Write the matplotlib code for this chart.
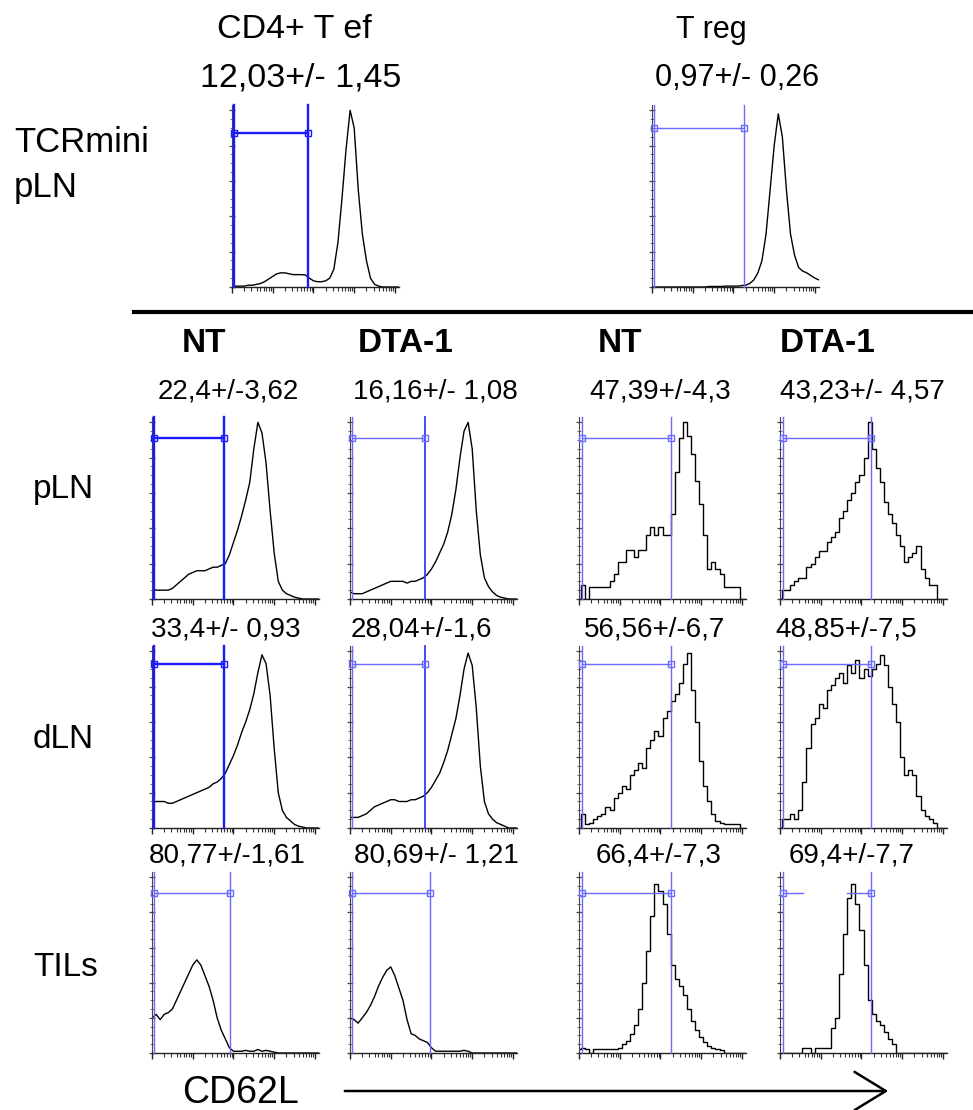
import matplotlib
matplotlib.use("Agg")
import matplotlib.pyplot as plt
from matplotlib.lines import Line2D
from matplotlib.patches import FancyArrowPatch
import numpy as np

plt.rcParams['font.family'] = ['Liberation Sans', 'DejaVu Sans']

W, H = 973, 1110

# ---------------- data ----------------
# CD62L fluorescence, position in log10 decades, at which histogram heights are read
cd62l_log = [0.0, 0.1, 0.2, 0.3, 0.4, 0.5, 0.6, 0.7, 0.8, 0.9,
             1.0, 1.1, 1.2, 1.3, 1.4, 1.5, 1.6, 1.7, 1.8, 1.9,
             2.0, 2.1, 2.2, 2.3, 2.4, 2.5, 2.6, 2.7, 2.8, 2.9,
             3.0, 3.1, 3.2, 3.3, 3.4, 3.5, 3.6, 3.7, 3.8, 3.9,
             4.0, 4.1]

# TCRmini pLN (top row)
top_cd4_tef = [0.0, 0.005, 0.005, 0.005, 0.01, 0.01, 0.015, 0.02, 0.03, 0.045,
               0.06, 0.075, 0.08, 0.08, 0.075, 0.07, 0.07, 0.07, 0.068, 0.05,
               0.035, 0.03, 0.03, 0.035, 0.05, 0.1, 0.25, 0.5, 0.78, 1.0,
               0.9, 0.55, 0.3, 0.15, 0.05, 0.015, 0.005, 0, 0, 0,
               0, 0]
top_treg = [0, 0, 0, 0, 0, 0, 0, 0, 0, 0,
            0, 0, 0, 0, 0.003, 0.003, 0.003, 0.003, 0.005, 0.005,
            0.005, 0.005, 0.008, 0.01, 0.02, 0.04, 0.08, 0.15, 0.3, 0.55,
            0.8, 0.98, 0.85, 0.55, 0.3, 0.18, 0.11, 0.09, 0.08, 0.065,
            0.05, 0.04]

# pLN
pln_nt_cd4 = [0.06, 0.05, 0.05, 0.05, 0.05, 0.06, 0.08, 0.1, 0.12, 0.14,
              0.15, 0.16, 0.16, 0.16, 0.17, 0.18, 0.18, 0.19, 0.2, 0.25,
              0.32, 0.39, 0.47, 0.56, 0.66, 0.85, 1.0, 0.94, 0.77, 0.5,
              0.26, 0.1, 0.05, 0.03, 0.02, 0.01, 0.005, 0, 0, 0,
              0, 0]
pln_dta_cd4 = [0.04, 0.03, 0.03, 0.03, 0.04, 0.05, 0.06, 0.07, 0.08, 0.09,
               0.1, 0.1, 0.1, 0.1, 0.09, 0.1, 0.1, 0.11, 0.12, 0.14,
               0.17, 0.21, 0.26, 0.31, 0.38, 0.48, 0.62, 0.8, 0.95, 1.0,
               0.85, 0.5, 0.25, 0.12, 0.07, 0.04, 0.02, 0.01, 0.005, 0,
               0, 0]
pln_nt_treg = [0.0, 0.08, 0.0, 0.07, 0.07, 0.07, 0.07, 0.07, 0.1, 0.14,
               0.21, 0.21, 0.28, 0.28, 0.24, 0.28, 0.28, 0.36, 0.41, 0.36,
               0.41, 0.36, 0.36, 0.48, 0.72, 0.91, 1.0, 0.92, 0.82, 0.67,
               0.54, 0.36, 0.17, 0.21, 0.17, 0.14, 0.07, 0.07, 0.07, 0.07,
               0.0, 0.0]
pln_dta_treg = [0, 0.05, 0.05, 0.08, 0.1, 0.12, 0.12, 0.18, 0.2, 0.24,
                0.27, 0.27, 0.32, 0.35, 0.38, 0.46, 0.5, 0.56, 0.6, 0.66,
                0.7, 0.8, 1.0, 0.85, 0.74, 0.66, 0.55, 0.48, 0.43, 0.36,
                0.3, 0.21, 0.24, 0.26, 0.3, 0.17, 0.12, 0.08, 0.08, 0.0,
                0, 0]

# dLN
dln_nt_cd4 = [0.14, 0.15, 0.15, 0.15, 0.14, 0.14, 0.15, 0.16, 0.17, 0.18,
              0.19, 0.2, 0.21, 0.22, 0.23, 0.25, 0.26, 0.28, 0.31, 0.36,
              0.41, 0.47, 0.54, 0.6, 0.67, 0.76, 0.88, 0.98, 0.93, 0.75,
              0.45, 0.2, 0.1, 0.06, 0.04, 0.02, 0.01, 0.005, 0, 0,
              0, 0]
dln_dta_cd4 = [0.06, 0.06, 0.06, 0.07, 0.08, 0.1, 0.12, 0.13, 0.14, 0.15,
               0.16, 0.16, 0.15, 0.15, 0.15, 0.16, 0.16, 0.17, 0.18, 0.2,
               0.23, 0.27, 0.31, 0.37, 0.44, 0.53, 0.62, 0.75, 0.9, 0.99,
               0.92, 0.68, 0.35, 0.15, 0.08, 0.05, 0.03, 0.02, 0.01, 0,
               0, 0]
dln_nt_treg = [0, 0.08, 0.02, 0.03, 0.05, 0.07, 0.08, 0.12, 0.1, 0.17,
               0.2, 0.24, 0.22, 0.3, 0.33, 0.37, 0.34, 0.45, 0.5, 0.55,
               0.52, 0.62, 0.66, 0.72, 0.76, 0.82, 0.93, 0.99, 0.78, 0.6,
               0.38, 0.24, 0.15, 0.08, 0.04, 0.03, 0.02, 0.02, 0.02, 0.02,
               0, 0]
dln_dta_treg = [0, 0.05, 0.05, 0.08, 0.05, 0.1, 0.26, 0.45, 0.59, 0.62,
                0.7, 0.68, 0.78, 0.81, 0.85, 0.88, 0.82, 0.92, 0.88, 0.95,
                0.85, 0.9, 0.86, 0.9, 0.93, 0.98, 0.92, 0.8, 0.7, 0.6,
                0.4, 0.3, 0.33, 0.3, 0.18, 0.1, 0.07, 0.05, 0.03, 0,
                0, 0]

# TILs
til_nt_cd4 = [0.2, 0.22, 0.19, 0.22, 0.23, 0.25, 0.3, 0.35, 0.4, 0.45,
              0.5, 0.53, 0.5, 0.44, 0.38, 0.3, 0.2, 0.13, 0.08, 0.03,
              0.01, 0.01, 0.01, 0.015, 0.01, 0.01, 0.02, 0.01, 0.015, 0.01,
              0.005, 0, 0, 0, 0, 0, 0, 0, 0, 0,
              0, 0]
til_dta_cd4 = [0.2, 0.19, 0.17, 0.2, 0.23, 0.27, 0.32, 0.38, 0.43, 0.47,
               0.49, 0.44, 0.37, 0.3, 0.19, 0.11, 0.1, 0.08, 0.07, 0.06,
               0.03, 0.01, 0.01, 0.01, 0.01, 0.01, 0.01, 0.01, 0.015, 0.01,
               0, 0, 0, 0, 0, 0, 0, 0, 0, 0,
               0, 0]
til_nt_treg = [0.02, 0.03, 0.02, 0.0, 0.02, 0.02, 0.02, 0.02, 0.02, 0.02,
               0.03, 0.05, 0.07, 0.11, 0.16, 0.25, 0.4, 0.58, 0.78, 0.96,
               0.92, 0.85, 0.68, 0.5, 0.42, 0.38, 0.33, 0.25, 0.18, 0.13,
               0.09, 0.06, 0.04, 0.03, 0.02, 0.015, 0, 0, 0, 0,
               0, 0]
til_dta_treg = [0, 0, 0, 0, 0, 0, 0.03, 0.03, 0.0, 0.03,
                0.03, 0.03, 0.03, 0.14, 0.2, 0.45, 0.68, 0.88, 0.96, 0.85,
                0.7, 0.5, 0.3, 0.22, 0.18, 0.16, 0.12, 0.08, 0.05, 0,
                0, 0, 0, 0, 0, 0, 0, 0, 0, 0,
                0, 0]

# text
top_titles = ["CD4+ T ef", "T reg"]
top_values = ["12,03+/- 1,45", "0,97+/- 0,26"]
top_row_labels = ["TCRmini", "pLN"]
col_headers = ["NT", "DTA-1", "NT", "DTA-1"]
row_labels = ["pLN", "dLN", "TILs"]
grid_values = [["22,4+/-3,62", "16,16+/- 1,08", "47,39+/-4,3", "43,23+/- 4,57"],
               ["33,4+/- 0,93", "28,04+/-1,6", "56,56+/-6,7", "48,85+/-7,5"],
               ["80,77+/-1,61", "80,69+/- 1,21", "66,4+/-7,3", "69,4+/-7,7"]]
x_label = "CD62L"

# gate upper bound (log decades) per panel
top_gates = [1.87, 2.26]
grid_gates = [[1.77, 1.84, 2.26, 2.24],
              [1.77, 1.84, 2.26, 2.24],
              [1.92, 1.97, 2.26, 2.24]]

top_hists = [top_cd4_tef, top_treg]
grid_hists = [[pln_nt_cd4, pln_dta_cd4, pln_nt_treg, pln_dta_treg],
              [dln_nt_cd4, dln_dta_cd4, dln_nt_treg, dln_dta_treg],
              [til_nt_cd4, til_dta_cd4, til_nt_treg, til_dta_treg]]

# ---------------- drawing ----------------
fig = plt.figure(figsize=(W / 100, H / 100), dpi=100)

PW = 167
STRONG = ('#1a1aff', 1.7)
MEDIUM = ('#3a3aff', 1.3)
LIGHT = ('#6a6aff', 1.0)


def px_axes(x, ytop, h=182):
    return fig.add_axes([x / W, 1 - (ytop + h) / H, PW / W, h / H])


def style(ax):
    ax.set_xlim(0, 4.1)
    ax.set_ylim(0, 1.03)
    for s in ('top', 'right'):
        ax.spines[s].set_visible(False)
    ax.spines['left'].set_color('#444444')
    ax.spines['left'].set_linewidth(0.8)
    ax.spines['bottom'].set_color('#222222')
    ax.spines['bottom'].set_linewidth(1.0)
    majors = [0, 1, 2, 3, 4]
    minors = [d + np.log10(k) for d in range(4) for k in range(2, 10)]
    ax.set_xticks(majors)
    ax.set_xticks(minors, minor=True)
    ax.set_yticks(np.linspace(0, 1.0, 6))
    ax.set_yticks(np.linspace(0, 1.0, 21), minor=True)
    ax.set_xticklabels([])
    ax.set_yticklabels([])
    ax.tick_params(axis='x', which='major', direction='out', length=4, width=1.0, color='#222222')
    ax.tick_params(axis='x', which='minor', direction='out', length=3, width=0.8, color='#333333')
    ax.tick_params(axis='y', which='major', direction='inout', length=4, width=0.9, color='#444444')
    ax.tick_params(axis='y', which='minor', direction='inout', length=3, width=0.6, color='#555555')


def gate(ax, g_hi, bar_y, level, g_lo=0.04, broken=None, vline_level=None):
    col, lw = {'strong': STRONG, 'light': LIGHT}[level]
    vcol, vlw = {'strong': STRONG, 'medium': MEDIUM, 'light': LIGHT}[vline_level or level]
    ax.plot([g_lo, g_lo], [0, 1.03], color=col, lw=lw, zorder=3, clip_on=False)
    ax.plot([g_hi, g_hi], [0, 1.03], color=vcol, lw=vlw, zorder=3, clip_on=False)
    if broken is None:
        ax.plot([g_lo, g_hi], [bar_y, bar_y], color=col, lw=lw, zorder=3)
    else:
        ax.plot([g_lo, broken[0]], [bar_y, bar_y], color=col, lw=lw, zorder=3)
        ax.plot([broken[1], g_hi], [bar_y, bar_y], color=col, lw=lw, zorder=3)
    ax.plot([g_lo, g_hi], [bar_y, bar_y], ls='none', marker='s', ms=5,
            mfc='none', mec=col, mew=1.0, zorder=4, clip_on=False)


def hist(ax, vals, steps):
    ax.plot(cd62l_log, vals, color='black', lw=1.0,
            drawstyle='steps-mid' if steps else 'default', zorder=2)


# top row
top_x = [232, 652]
top_bar = [0.874, 0.90]
for i in range(2):
    ax = px_axes(top_x[i], 105)
    style(ax)
    hist(ax, top_hists[i], False)
    gate(ax, top_gates[i], top_bar[i], 'strong' if i == 0 else 'light')

# grid
col_x = [152, 350, 579, 780]
row_top = [417, 646, 872]
row_h = [182, 182, 181]
bar_y = [0.91, 0.93, 0.91]
level_map = [['strong', 'light', 'light', 'light'],
             ['strong', 'light', 'light', 'light'],
             ['light', 'light', 'light', 'light']]
vline_map = [['strong', 'medium', 'light', 'light'],
             ['strong', 'medium', 'light', 'light'],
             ['light', 'light', 'light', 'light']]
for r in range(3):
    for c in range(4):
        ax = px_axes(col_x[c], row_top[r], row_h[r])
        style(ax)
        hist(ax, grid_hists[r][c], steps=(c >= 2))
        broken = (0.57, 1.65) if (r == 2 and c == 3) else None
        gate(ax, grid_gates[r][c], bar_y[r], level_map[r][c],
             g_lo=0.04 if c < 2 else 0.08, broken=broken,
             vline_level=vline_map[r][c])


def ftext(x, y, s, **kw):
    fig.text(x / W, 1 - y / H, s, va='center', **kw)


ftext(294, 30, top_titles[0], ha='center', fontsize=24.5)
ftext(301, 78, top_values[0], ha='center', fontsize=24.5)
ftext(711, 30, top_titles[1], ha='center', fontsize=22)
ftext(737, 78, top_values[1], ha='center', fontsize=22)
ftext(14, 143, top_row_labels[0], ha='left', fontsize=25)
ftext(14, 188, top_row_labels[1], ha='left', fontsize=25)

head_x = [204, 406, 620, 828]
for c in range(4):
    ftext(head_x[c], 343, col_headers[c], ha='center', fontsize=24, fontweight='bold')

val_x = [[228, 435, 660, 862], [226, 421, 654, 846], [227, 436, 659, 852]]
val_y = [392, 630, 856]
for r in range(3):
    for c in range(4):
        ftext(val_x[r][c], val_y[r], grid_values[r][c], ha='center', fontsize=20)

row_lab_y = [490, 740, 968]
for r in range(3):
    ftext(33, row_lab_y[r], row_labels[r], ha='left', fontsize=24)

ftext(182, 1093, x_label, ha='left', fontsize=27)

fig.add_artist(Line2D([134 / W, 1.0], [1 - 312 / H, 1 - 312 / H], lw=3, color='black'))
fig.add_artist(FancyArrowPatch((342 / W, 1 - 1091 / H), (891 / W, 1 - 1091 / H),
                               transform=fig.transFigure,
                               arrowstyle='->,head_length=0.9,head_width=0.55',
                               mutation_scale=25, lw=1.8, color='black'))

fig.savefig('out.png', dpi=100)
